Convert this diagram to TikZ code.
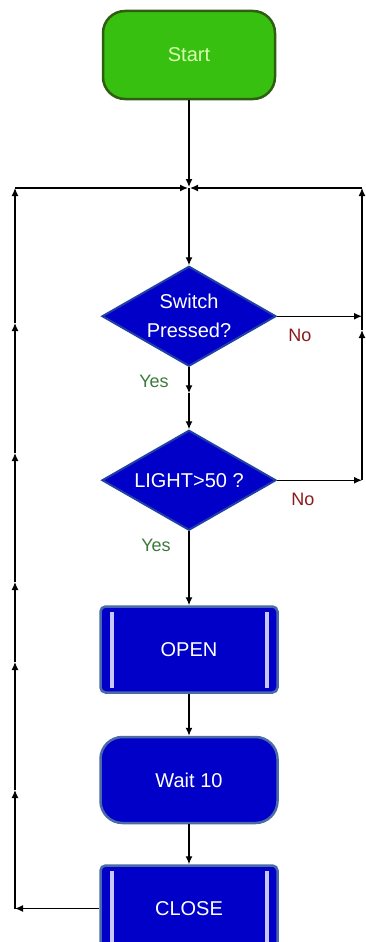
\documentclass[tikz,border=0pt]{standalone}
\usepackage{fontspec}
\setmainfont{Liberation Sans}
\usetikzlibrary{arrows.meta, shapes.geometric, positioning, calc}
\definecolor{startgreen}{HTML}{38C010}
\definecolor{startedge}{HTML}{2E5E12}
\definecolor{starttext}{HTML}{D8FFB0}
\definecolor{boxblue}{HTML}{0000C8}
\definecolor{boxedge}{HTML}{4A6AA8}
\definecolor{diaedge}{HTML}{2040A8}
\definecolor{barlight}{HTML}{C8C8FF}
\definecolor{nored}{HTML}{8B1A1A}
\definecolor{yesgreen}{HTML}{3C7A3C}

\begin{document}
\begin{tikzpicture}[
      x=1pt, y=-1pt,
      >={Latex[length=8pt,width=7pt]},
      font=\fontsize{20}{29}\selectfont,
      flow/.style = {->, line width=1.3pt},
      terminal/.style = {
        draw=startedge, line width=2.5pt, fill=startgreen,
        rounded corners=22pt,
        minimum width=172pt, minimum height=88pt,
        text=starttext
      },
      decision/.style = {
        diamond, aspect=1.74,
        draw=diaedge, line width=2pt, fill=boxblue,
        minimum width=174pt, minimum height=100pt,
        inner sep=0pt, align=center, text=white
      },
      action/.style = {
        draw=boxedge, line width=2.5pt, fill=boxblue,
        rounded corners=5pt,
        minimum width=177pt, minimum height=86pt,
        text=white,
        path picture={
          \fill[barlight, sharp corners] ([xshift=9pt,yshift=-5pt]path picture bounding box.north west)
            rectangle ([xshift=13pt,yshift=5pt]path picture bounding box.south west);
          \fill[barlight, sharp corners] ([xshift=-13pt,yshift=-5pt]path picture bounding box.north east)
            rectangle ([xshift=-9pt,yshift=5pt]path picture bounding box.south east);
        }
      },
      waitbox/.style = {
        draw=boxedge, line width=2.5pt, fill=boxblue,
        rounded corners=22pt,
        minimum width=177pt, minimum height=86pt,
        text=white
      },
      nolbl/.style = {text=nored, font=\fontsize{18}{20}\selectfont},
      yeslbl/.style = {text=yesgreen, font=\fontsize{18}{20}\selectfont}
    ]
    \useasboundingbox (0,0) rectangle (365,942);

    \node[terminal]                           (start) at (189,55) {Start};
    \node[decision, below=165pt of start]     (sw)    {Switch\\Pressed?};
    \node[decision, below=62pt of sw]         (light) {LIGHT>50 ?};
    \node[action, below=74pt of light]        (open)  {OPEN};
    \node[waitbox, below=42pt of open]        (wait)  {Wait 10};
    \node[action, below=40pt of wait]         (close) {CLOSE};

    \coordinate (junc) at (start.south |- 0,188);

    % main column
    \draw[flow, shorten >=1pt] (start) -- (junc);
    \draw[flow] (junc) -- (sw);
    \coordinate (swmid) at ($(sw.south)!0.42!(light.north)$);
    \draw[flow] (sw) -- (swmid);
    \draw[flow] (swmid) -- (light);
    \draw[flow] (light) -- (open);
    \draw[flow] (open) -- (wait);
    \draw[flow] (wait) -- (close);

    % return line on the left
    \coordinate (lcorner) at (15,188);
    \coordinate (lbottom) at (close.west -| lcorner);
    \foreach \y [count=\i] in {790,662,582,453,323}
      \coordinate (up\i) at (15,\y);
    \coordinate (up6) at (lcorner);
    \draw[flow] (close.west) -- (lbottom);
    \draw[flow] (lbottom) -- (up1);
    \foreach \i [count=\j from 2] in {1,...,5}
      \draw[flow] (up\i) -- (up\j);
    \draw[flow, shorten >=1pt] (lcorner) -- (junc);

    % "No" line on the right
    \coordinate (rcorner) at (362,188);
    \coordinate (rmid) at (362,330);
    \draw[flow] (sw.east) -- (sw.east -| rcorner);
    \draw[flow] (light.east) -- (light.east -| rcorner) coordinate (rlow);
    \draw[flow] (rlow) -- (rmid);
    \draw[flow] (rmid) -- (rcorner);
    \draw[flow, shorten >=1pt] (rcorner) -- (junc);

    \node[nolbl]  (swno)    at ($(sw.east)+(23,19)$)     {No};
    \node[nolbl]  (lightno) at ($(light.east)+(26,19)$)  {No};
    \node[yeslbl] (swyes)   at ($(sw.south)+(-35,14)$)   {Yes};
    \node[yeslbl] (lightyes) at ($(light.south)+(-33,14)$) {Yes};

  \end{tikzpicture}
\end{document}
